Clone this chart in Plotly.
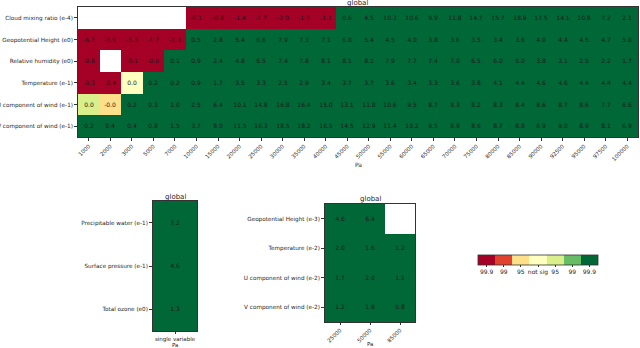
import plotly.graph_objects as go

# ---- data ----
pressure_levels = ['1000', '2000', '3000', '5000', '7000', '10000', '15000', '20000', '25000',
                   '30000', '35000', '40000', '45000', '50000', '55000', '60000', '65000', '70000',
                   '75000', '80000', '85000', '90000', '92500', '95000', '97500', '100000']
main_vars = ['Cloud mixing ratio (e-4)', 'Geopotential Height (e0)', 'Relative humidity (e0)',
             'Temperature (e-1)', 'U component of wind (e-1)', 'V component of wind (e-1)']
main_values = [
    [None, None, None, None, None, -0.1, -0.8, -1.4, -1.7, -2.0, -1.5, -1.1, 0.6, 4.5, 10.3, 10.6,
     9.9, 11.8, 14.7, 15.7, 18.9, 17.5, 14.1, 10.8, 7.2, 2.1],
    [-6.7, -5.6, -5.3, -1.7, -1.3, 0.5, 2.8, 5.4, 6.6, 7.9, 7.3, 7.1, 6.0, 5.4, 4.5, 4.0, 3.8, 3.6,
     3.5, 3.4, 3.6, 4.0, 4.4, 4.5, 4.7, 5.0],
    [-0.8, None, -0.1, -0.0, 0.1, 0.9, 2.4, 4.8, 6.5, 7.4, 7.8, 8.1, 8.1, 8.1, 7.9, 7.7, 7.4, 7.0,
     6.5, 6.0, 5.0, 3.8, 3.1, 2.5, 2.2, 1.7],
    [-0.3, -0.4, 0.0, 0.2, 0.2, 0.9, 1.7, 3.5, 3.3, 2.5, 2.9, 3.4, 3.7, 3.7, 3.6, 3.4, 3.3, 3.6,
     3.8, 4.1, 4.4, 4.6, 4.6, 4.4, 4.4, 4.4],
    [0.0, -0.0, 0.2, 0.3, 1.0, 2.5, 6.4, 10.1, 14.8, 16.8, 16.4, 15.0, 13.1, 11.8, 10.6, 9.5, 8.7,
     8.3, 8.2, 8.3, 8.4, 8.6, 8.7, 8.6, 7.7, 6.6],
    [0.2, 0.4, 0.4, 0.8, 1.5, 3.7, 8.0, 11.5, 16.3, 18.5, 18.2, 16.5, 14.5, 12.9, 11.4, 10.2, 9.5,
     8.9, 8.6, 8.7, 8.8, 8.9, 9.0, 8.9, 8.1, 6.9],
]
# significance class: -3/-2/-1 = 99.9/99/95 negative, 0 = not sig, 1/2/3 = 95/99/99.9 positive
main_sig = [
    [None] * 5 + [-3] * 7 + [3] * 14,
    [-3] * 5 + [3] * 21,
    [-3, None, -3, -3] + [3] * 22,
    [-3, -3, 0] + [3] * 23,
    [1, -1] + [3] * 24,
    [3] * 26,
]

single_cols = ['single variable']
single_vars = ['Precipitable water (e-1)', 'Surface pressure (e-1)', 'Total ozone (e0)']
single_values = [[7.2], [4.6], [1.3]]
single_sig = [[3], [3], [3]]

sub_levels = ['25000', '50000', '85000']
sub_vars = ['Geopotential Height (e-3)', 'Temperature (e-2)', 'U component of wind (e-2)',
            'V component of wind (e-2)']
sub_values = [[4.6, 6.4, None], [2.0, 1.6, 1.2], [1.7, 2.0, 1.1], [1.2, 1.9, 0.8]]
sub_sig = [[3, 3, None], [3, 3, 3], [3, 3, 3], [3, 3, 3]]

sig_labels = ['99.9', '99', '95', 'not sig', '95', '99', '99.9']
sig_colors = ['#a50026', '#e0422f', '#fee08b', '#ffffbf', '#d9ef8b', '#66bd63', '#006837']

FONT = 'DejaVu Sans'
INK = '#262626'


def fmt(rows):
    return [['' if v is None else f'{v:.1f}' for v in r] for r in rows]


# stepped colorscale
n = len(sig_colors)
colorscale = []
for i, c in enumerate(sig_colors):
    colorscale.append([i / n, c])
    colorscale.append([(i + 1) / n, c])

fig = go.Figure()


def add_map(x, y, z, vals, xa, ya):
    fig.add_trace(go.Heatmap(
        x=x, y=y, z=z, text=fmt(vals), texttemplate='%{text}',
        textfont=dict(size=6, color='#1a1a1a', family=FONT),
        coloraxis='coloraxis', xaxis=xa, yaxis=ya, xgap=0, ygap=0,
        hoverinfo='skip',
    ))


add_map(pressure_levels, main_vars, main_sig, main_values, 'x', 'y')
add_map(single_cols, single_vars, single_sig, single_values, 'x2', 'y2')
add_map(sub_levels, sub_vars, sub_sig, sub_values, 'x3', 'y3')

axis_style = dict(type='category', showgrid=False, zeroline=False, showline=True, mirror=True,
                  linecolor='#333', linewidth=0.8, ticks='outside', ticklen=3, tickwidth=0.8,
                  tickcolor='#333', tickfont=dict(size=5.7, color=INK, family=FONT))
x_font = dict(size=5.5, color=INK, family=FONT)

W, H = 640, 348


def px_x(a, b):
    return [a / W, b / W]


def px_y(top, bottom):
    return [1 - bottom / H, 1 - top / H]


fig.update_layout(
    template='none',
    width=W, height=H,
    margin=dict(l=0, r=0, t=0, b=0),
    plot_bgcolor='white', paper_bgcolor='white',
    font=dict(family=FONT, size=6, color=INK),
    xaxis=dict(axis_style, domain=px_x(78, 638), anchor='y', tickangle=-45, tickfont=x_font),
    yaxis=dict(axis_style, domain=px_y(7, 137), anchor='x', autorange='reversed'),
    xaxis2=dict(axis_style, domain=px_x(153, 197), anchor='y2', tickangle=0, tickfont=x_font,
                ticklen=2),
    yaxis2=dict(axis_style, domain=px_y(201, 331), anchor='x2', autorange='reversed'),
    xaxis3=dict(axis_style, domain=px_x(325, 415), anchor='y3', tickangle=-45, tickfont=x_font,
                ticklen=2),
    yaxis3=dict(axis_style, domain=px_y(204, 322), anchor='x3', autorange='reversed'),
    coloraxis=dict(
        colorscale=colorscale, cmin=-3.5, cmax=3.5,
        colorbar=dict(
            orientation='h', x=538 / W, xanchor='center', y=1 - 266 / H, yanchor='middle',
            len=120 / W, lenmode='fraction', thickness=10, xpad=0, ypad=0,
            outlinewidth=0.8, outlinecolor='#333',
            tickvals=list(range(-3, 4)), ticktext=sig_labels, tickangle=0,
            ticks='outside', ticklen=2, tickcolor='#333',
            tickfont=dict(size=6, color=INK, family=FONT),
        ),
    ),
    showlegend=False,
)

# panel titles and axis titles
for x, y, t, s in [(357, 3, 'global', 7), (175, 197, 'global', 7), (370, 199, 'global', 7),
                   (358, 164, 'Pa', 6), (175, 345, 'Pa', 5.5), (370, 344, 'Pa', 5.5)]:
    fig.add_annotation(x=x / W, y=1 - y / H, xref='paper', yref='paper', text=t,
                       showarrow=False, xanchor='center', yanchor='middle',
                       font=dict(size=s, color=INK, family=FONT))

# the page's default body margin would push the fixed-size figure 8px off the window
fig.write_html("out.html", config={'displayModeBar': False},
               post_script="document.body.style.margin = '0px';")
